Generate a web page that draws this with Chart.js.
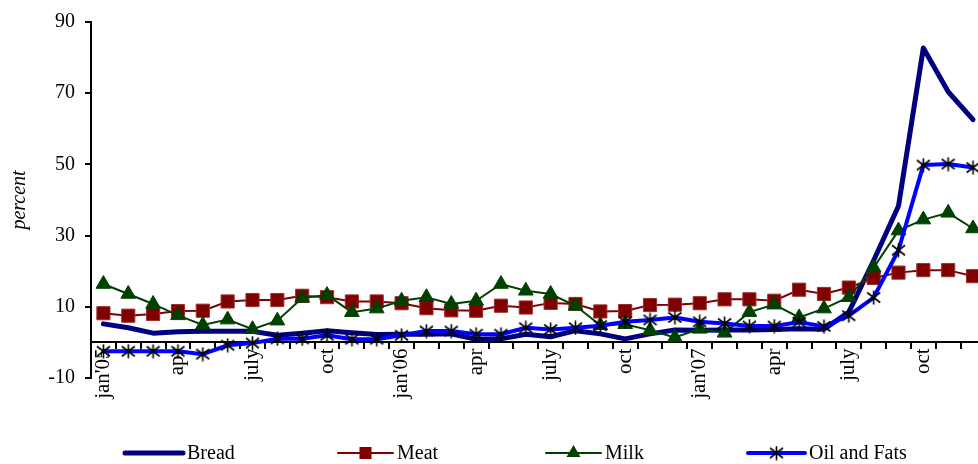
<!DOCTYPE html>
<html>
<head>
<meta charset="utf-8">
<script src="https://cdn.jsdelivr.net/npm/chart.js@4/dist/chart.umd.min.js"></script>
<style>
  body { margin: 0; background: #fff; overflow: hidden; }
</style>
</head>
<body>
<canvas id="chart" width="978" height="464"></canvas>
<script>
// monthly, jan 2005 .. dec 2007
const months = [
  "jan'05", "feb'05", "mar'05", "apr'05", "may'05", "june'05", "july'05", "aug'05", "sep'05", "oct'05", "nov'05", "dec'05",
  "jan'06", "feb'06", "mar'06", "apr'06", "may'06", "june'06", "july'06", "aug'06", "sep'06", "oct'06", "nov'06", "dec'06",
  "jan'07", "feb'07", "mar'07", "apr'07", "may'07", "june'07", "july'07", "aug'07", "sep'07", "oct'07", "nov'07", "dec'07"
];
// shown every third month
const quarterLabels = ["jan'05", "apr", "july", "oct", "jan'06", "apr", "july", "oct", "jan'07", "apr", "july", "oct"];
const yTicks = [-10, 10, 30, 50, 70, 90];

const bread = [5.2, 4.1, 2.6, 3.0, 3.1, 3.1, 3.1, 2.0, 2.6, 3.3, 2.7, 2.2, 2.3, 2.3, 2.4, 0.9, 1.0, 2.3,
  1.6, 3.3, 2.4, 1.0, 2.4, 3.5, 3.4, 3.5, 3.5, 3.6, 3.8, 3.7, 8.5, 23.0, 38.3, 82.7, 70.4, 62.6];
const meat = [8.2, 7.5, 8.0, 8.8, 8.9, 11.5, 11.9, 11.9, 13.1, 12.7, 11.5, 11.5, 11.0, 9.6, 9.0, 8.9, 10.3, 9.8,
  11.1, 10.8, 8.7, 8.8, 10.5, 10.6, 11.0, 12.1, 12.1, 11.7, 14.8, 13.6, 15.4, 18.1, 19.6, 20.3, 20.3, 18.6];
const milk = [16.4, 13.6, 10.8, 7.6, 4.9, 6.4, 3.7, 6.1, 12.5, 13.3, 8.5, 9.5, 11.7, 12.7, 10.8, 11.7, 16.4, 14.5,
  13.6, 10.3, 4.8, 5.1, 3.4, 1.4, 3.8, 2.7, 8.5, 10.6, 7.0, 9.5, 12.7, 21.0, 31.4, 34.5, 36.4, 32.0];
const oilFats = [-2.5, -2.5, -2.5, -2.5, -3.3, -0.8, -0.2, 1.0, 1.0, 2.0, 0.9, 0.9, 2.0, 3.2, 3.2, 2.3, 2.3, 4.1,
  3.6, 4.1, 4.7, 5.8, 6.3, 7.0, 5.8, 5.3, 4.6, 4.6, 5.7, 4.5, 7.5, 12.6, 25.9, 49.8, 50.1, 49.1];

const FONT = "'Liberation Serif', 'Times New Roman', serif";
const NAVY = "#000080";
const MAROON = "#800000";
const GREEN = "#004000";
const BLUE = "#0000ff";

// excel style asterisk marker (vertical bar + x)
function makeAsterisk(size) {
  const c = document.createElement("canvas");
  c.width = size;
  c.height = size;
  const g = c.getContext("2d");
  const m = size / 2;
  g.strokeStyle = "#000";
  g.lineWidth = 1.6;
  g.beginPath();
  g.moveTo(m, 0.5);
  g.lineTo(m, size - 0.5);
  g.moveTo(1, 2.5);
  g.lineTo(size - 1, size - 2.5);
  g.moveTo(size - 1, 2.5);
  g.lineTo(1, size - 2.5);
  g.stroke();
  return c;
}
const asterisk = makeAsterisk(15);

const toXY = (arr) => arr.map((v, i) => ({ x: i, y: v }));

// stretch the plot to the right edge of the canvas (the original is cut off there)
const fullWidthPlugin = {
  id: "fullWidth",
  afterLayout(chart) {
    const xs = chart.scales.x;
    const right = chart.width;
    chart.chartArea.right = right;
    chart.chartArea.width = right - chart.chartArea.left;
    xs.right = right;
    xs.width = right - xs.left;
    xs.configure();
    xs._labelItems = null;
  }
};

// legend drawn by hand: line sample + marker + label
const legendPlugin = {
  id: "bottomLegend",
  afterDraw(chart) {
    const ctx = chart.ctx;
    const y = 453;
    const items = [
      { text: "Bread", x1: 125, x2: 183, color: NAVY, width: 5, marker: null },
      { text: "Meat", x1: 338, x2: 393, color: MAROON, width: 2, marker: "rect" },
      { text: "Milk", x1: 546, x2: 601, color: GREEN, width: 2, marker: "triangle" },
      { text: "Oil and Fats", x1: 748, x2: 805, color: BLUE, width: 4, marker: "star" }
    ];
    ctx.save();
    items.forEach((it) => {
      ctx.strokeStyle = it.color;
      ctx.lineWidth = it.width;
      ctx.lineCap = "round";
      ctx.beginPath();
      ctx.moveTo(it.x1, y);
      ctx.lineTo(it.x2, y);
      ctx.stroke();
      const mx = (it.x1 + it.x2) / 2;
      if (it.marker === "rect") {
        ctx.fillStyle = MAROON;
        ctx.fillRect(mx - 6, y - 6, 12, 12);
      } else if (it.marker === "triangle") {
        ctx.fillStyle = GREEN;
        ctx.beginPath();
        ctx.moveTo(mx, y - 8);
        ctx.lineTo(mx + 7, y + 4);
        ctx.lineTo(mx - 7, y + 4);
        ctx.closePath();
        ctx.fill();
      } else if (it.marker === "star") {
        ctx.drawImage(asterisk, mx - 7.5, y - 7.5);
      }
      ctx.fillStyle = "#000";
      ctx.font = "20px " + FONT;
      ctx.textBaseline = "middle";
      ctx.textAlign = "left";
      ctx.fillText(it.text, it.x2 + 4, y + 1);
    });
    ctx.restore();
  }
};

new Chart(document.getElementById("chart"), {
  type: "line",
  data: {
    datasets: [
      {
        label: "Bread",
        data: toXY(bread),
        borderColor: NAVY,
        borderWidth: 5,
        pointRadius: 0,
        borderJoinStyle: "round",
        borderCapStyle: "round",
        order: 3
      },
      {
        label: "Meat",
        data: toXY(meat),
        borderColor: MAROON,
        borderWidth: 2,
        pointStyle: "rect",
        pointRadius: 9.3,
        pointBackgroundColor: MAROON,
        pointBorderColor: "#9a3030",
        pointBorderWidth: 1,
        order: 2
      },
      {
        label: "Milk",
        data: toXY(milk),
        borderColor: GREEN,
        borderWidth: 2,
        pointStyle: "triangle",
        pointRadius: 8.5,
        pointBackgroundColor: GREEN,
        pointBorderColor: GREEN,
        pointBorderWidth: 1,
        order: 1
      },
      {
        label: "Oil and Fats",
        data: toXY(oilFats),
        borderColor: BLUE,
        borderWidth: 4,
        pointStyle: asterisk,
        borderJoinStyle: "round",
        order: 0
      }
    ]
  },
  options: {
    responsive: false,
    animation: false,
    events: [],
    layout: { padding: { top: 20, right: 0, bottom: 86, left: 0 } },
    elements: { line: { tension: 0 } },
    plugins: {
      legend: { display: false },
      tooltip: { enabled: false }
    },
    scales: {
      x: {
        type: "linear",
        position: { y: 0 },
        min: -0.5,
        max: 35.2,
        afterBuildTicks: (scale) => {
          const t = [];
          for (let v = -0.5; v <= 35.2; v += 0.5) t.push({ value: v });
          scale.ticks = t;
        },
        ticks: {
          autoSkip: false,
          minRotation: 90,
          maxRotation: 90,
          padding: 0,
          color: "#000",
          font: { family: FONT, size: 21 },
          callback: (v) => (Number.isInteger(v) && v % 3 === 0 ? quarterLabels[v / 3] : "")
        },
        grid: {
          drawOnChartArea: false,
          drawTicks: true,
          tickLength: 6,
          lineWidth: 2,
          color: (ctx) => (ctx.tick && Number.isInteger(ctx.tick.value) ? "rgba(0,0,0,0)" : "#000")
        },
        border: { color: "#000", width: 2 }
      },
      y: {
        min: -10,
        max: 90,
        afterBuildTicks: (scale) => {
          scale.ticks = yTicks.map((v) => ({ value: v }));
        },
        afterFit: (scale) => {
          scale.width = 91;
        },
        ticks: {
          padding: 10,
          color: "#000",
          font: { family: FONT, size: 20 }
        },
        grid: {
          drawOnChartArea: false,
          drawTicks: true,
          tickLength: 6,
          lineWidth: 2,
          color: "#000"
        },
        border: { color: "#000", width: 2 },
        title: {
          display: true,
          text: "percent",
          color: "#000",
          padding: { top: 8, bottom: 0 },
          font: { family: FONT, size: 20, style: "italic" }
        }
      }
    }
  },
  plugins: [fullWidthPlugin, legendPlugin]
});
</script>
</body>
</html>
